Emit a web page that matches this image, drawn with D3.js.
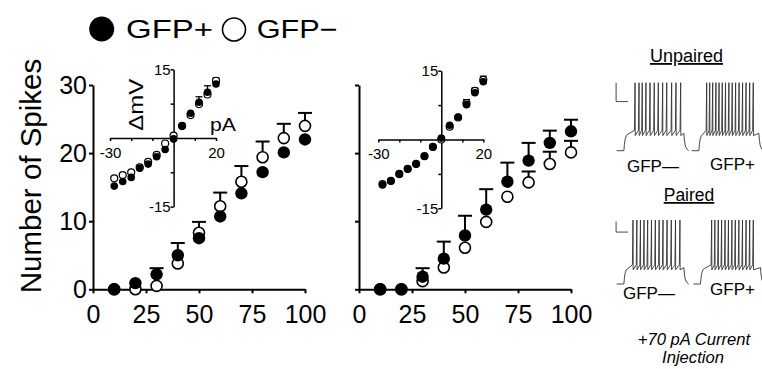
<!DOCTYPE html>
<html>
<head>
<meta charset="utf-8">
<script src="https://cdn.jsdelivr.net/npm/d3@7"></script>
<style>
  body { margin: 0; background: #fff; }
  svg { font-family: "Liberation Sans", Arial, sans-serif; }
  .main path.domain, .main .tick line { stroke: #000; stroke-width: 2; }
  .main .tick text { font-size: 25px; fill: #000; }
  .inset path.domain, .inset .tick line { stroke: #000; stroke-width: 1.5; }
  .inset .tick text { font-size: 15px; fill: #000; }
  .trace { fill: none; stroke: #333; stroke-width: 0.9; }
</style>
</head>
<body>
<svg id="chart" width="762" height="369"></svg>
<script>
// ---- data ----
const currents = [10, 20, 30, 40, 50, 60, 70, 80, 90, 100];
const xTicks = [0, 25, 50, 75, 100];
const yTicks = [0, 10, 20, 30];

// left panel
const leftPos    = [0, 0.9, 2.2, 5.0, 7.5, 10.7, 14.1, 17.2, 20.1, 22.0];
const leftPosErr = [0, 0, 0.9, 1.8, 0, 0, 0, 0, 0, 0];
const leftNeg    = [0, 0, 0.5, 3.8, 8.3, 12.2, 15.8, 19.4, 22.2, 24.0];
const leftNegErr = [0, 0, 0, 0, 1.6, 2.0, 2.3, 2.3, 2.1, 1.9];

// right panel
const rightPos    = [0, 0, 1.85, 4.5, 7.9, 11.7, 15.8, 18.9, 21.5, 23.2];
const rightPosErr = [0, 0, 1.25, 2.5, 2.9, 3.0, 2.8, 2.6, 1.8, 1.7];
const rightNeg    = [0, 0, 1.2, 3.2, 6.1, 9.9, 13.6, 15.7, 18.4, 20.1];
const rightNegErr = [0, 0, 0, 0, 0, 0, 0, 1.6, 1.8, 1.7];

// insets (I-V)
const insetCurrents = [-28, -24, -20, -16, -12, -8, -4, 0, 4, 8, 12, 16, 20];
const insetXTicks = [-30, -20, -10, 0, 10, 20];
const insetYTicks = [-15, -7.5, 0, 7.5, 15];
const leftInsetPos    = [-10.5, -9.5, -8.6, -6.6, -5.7, -4.1, -2.5, -0.2, 2.7, 5.4, 7.8, 10.0, 11.8];
const leftInsetPosErr = [0, 0, 0, 0, 0, 0, 0, 0, 0, 0, 1.2, 1.4, 0];
const leftInsetNeg    = [-8.8, -8.1, -7.5, -6.4, -5.2, -3.7, -1.2, 0.5, 2.6, 5.0, 7.4, 9.5, 12.5];
const leftInsetNegErr = [0, 0, 0, 0, 0, 0, 0, 0, 0, 0, 0, 0, 0.6];
const rightInsetPos    = [-9.9, -9.1, -7.6, -6.5, -5.4, -3.7, -1.7, 0.3, 3.1, 4.9, 7.6, 10.2, 12.6];
const rightInsetPosErr = [0, 0, 0, 0, 0, 0, 0, 0, 0, 0, 0, 1.0, 1.2];
const rightInsetNeg    = [-9.7, -9.0, -7.5, -6.4, -5.3, -3.6, -1.6, 0.0, 2.8, 4.8, 7.9, 10.6, 13.0];
const rightInsetNegErr = [0, 0, 0, 0, 0, 0, 0, 0, 0, 0, 0.8, 0, 0];

// example traces: spike times (ms) during +70 pA step
const unpairedNegSpikes = [93, 126, 153, 184, 218, 253, 287, 323, 357, 398, 434, 473];
const unpairedPosSpikes = [65, 90, 115, 142, 168, 195, 222, 250, 278, 306, 335, 364, 393, 423, 453];
const pairedNegSpikes   = [76, 108, 138, 168, 198, 230, 262, 294, 326, 360, 395, 430, 467];
const pairedPosSpikes   = [93, 120, 148, 176, 205, 233, 262, 290, 320, 350, 380, 410, 440];
const riseShape = [[0, -70], [4, -62], [10, -55], [20, -50], [35, -48]];
const fallShape = [[500, -47], [504, -56], [512, -64], [525, -68], [540, -70]];

// ---- drawing ----
const svg = d3.select("#chart");
svg.append("rect").attr("width", 762).attr("height", 369).attr("fill", "#fff");

// legend
const legend = svg.append("g");
legend.append("circle").attr("cx", 101.7).attr("cy", 29).attr("r", 12.5).attr("fill", "#000");
legend.append("text").attr("x", 126).attr("y", 37.5).attr("font-size", 25.5)
  .attr("textLength", 87).attr("lengthAdjust", "spacingAndGlyphs").text("GFP+");
legend.append("circle").attr("cx", 234).attr("cy", 29.5).attr("r", 11.5)
  .attr("fill", "#fff").attr("stroke", "#000").attr("stroke-width", 1.6);
legend.append("text").attr("x", 256.7).attr("y", 37.5).attr("font-size", 25.5)
  .attr("textLength", 81).attr("lengthAdjust", "spacingAndGlyphs").text("GFP\u2212");

// y label
svg.append("text")
  .attr("transform", "translate(41,176) rotate(-90)")
  .attr("text-anchor", "middle")
  .attr("font-size", 29.5)
  .text("Number of Spikes");

function series(g, x, y, xs, vals, errs, cap, sw) {
  const gr = g.append("g");
  // error bars (upward only)
  xs.forEach(function (c, i) {
    if (!errs[i]) return;
    gr.append("line").attr("x1", x(c)).attr("x2", x(c))
      .attr("y1", y(vals[i])).attr("y2", y(vals[i] + errs[i]))
      .attr("stroke", "#000").attr("stroke-width", sw);
    gr.append("line").attr("x1", x(c) - cap).attr("x2", x(c) + cap)
      .attr("y1", y(vals[i] + errs[i])).attr("y2", y(vals[i] + errs[i]))
      .attr("stroke", "#000").attr("stroke-width", sw);
  });
  return gr;
}

function markers(g, x, y, xs, vals, filled, r, sw) {
  g.append("g").selectAll("circle")
    .data(xs.map(function (c, i) { return [c, vals[i]]; }))
    .enter().append("circle")
    .attr("cx", function (d) { return x(d[0]); })
    .attr("cy", function (d) { return y(d[1]); })
    .attr("r", r)
    .attr("fill", filled ? "#000" : "#fff")
    .attr("stroke", "#000")
    .attr("stroke-width", filled ? 0 : sw);
}

function mainPanel(x0, x1, labels, pos, posErr, neg, negErr) {
  const x = d3.scaleLinear().domain([0, 100]).range([x0, x1]);
  const y = d3.scaleLinear().domain([0, 30]).range([289.3, 85]);
  const g = svg.append("g").attr("class", "main");

  g.append("g").attr("transform", "translate(0,289.3)")
    .call(d3.axisBottom(x).tickValues(xTicks).tickSize(4).tickSizeOuter(0).tickPadding(12));
  g.append("g").attr("transform", "translate(" + x0 + ",0)")
    .call(d3.axisLeft(y).tickValues(yTicks).tickSize(4).tickSizeOuter(0).tickPadding(2)
      .tickFormat(labels ? d3.format("d") : function () { return ""; }));
  g.selectAll(".tick text").attr("font-family", null).attr("font-size", null);

  series(g, x, y, currents, neg, negErr, 7, 2);
  series(g, x, y, currents, pos, posErr, 7, 2);
  markers(g, x, y, currents, neg, false, 5.5, 1.6);
  markers(g, x, y, currents, pos, true, 6.2, 0);
  return g;
}

function insetPanel(xr, yr, pos, posErr, neg, negErr, withLabels) {
  const x = d3.scaleLinear().domain([-30, 20]).range(xr);
  const y = d3.scaleLinear().domain([-15, 15]).range(yr);
  const g = svg.append("g").attr("class", "inset");
  const edge = function (d) { return (d === -30 || d === 20 || d === 15 || d === -15) ? String(d) : ""; };

  g.append("g").attr("transform", "translate(0," + y(0) + ")")
    .call(d3.axisBottom(x).tickValues(insetXTicks).tickSize(3).tickSizeOuter(0).tickPadding(6).tickFormat(edge));
  g.append("g").attr("transform", "translate(" + x(0) + ",0)")
    .call(d3.axisLeft(y).tickValues(insetYTicks).tickSize(3).tickSizeOuter(0).tickPadding(0).tickFormat(edge));
  g.selectAll(".tick text").attr("font-family", null).attr("font-size", null);

  series(g, x, y, insetCurrents, neg, negErr, 3.5, 1.3);
  series(g, x, y, insetCurrents, pos, posErr, 3.5, 1.3);
  markers(g, x, y, insetCurrents, neg, false, 3.5, 1.2);
  markers(g, x, y, insetCurrents, pos, true, 3.8, 0);

  if (withLabels) {
    g.append("text")
      .attr("transform", "translate(" + (x(0) - 31) + "," + (y(7.5) + 1) + ") rotate(-90)")
      .attr("text-anchor", "middle").attr("font-size", 20)
      .attr("textLength", 52).attr("lengthAdjust", "spacingAndGlyphs")
      .text("\u0394mV");
    g.append("text").attr("x", 210).attr("y", y(0) - 7.5)
      .attr("font-size", 19).attr("textLength", 26).attr("lengthAdjust", "spacingAndGlyphs")
      .text("pA");
  }
}

mainPanel(93, 305, true, leftPos, leftPosErr, leftNeg, leftNegErr);
mainPanel(359, 571, false, rightPos, rightPosErr, rightNeg, rightNegErr);
insetPanel([110, 216], [206.7, 69.3], leftInsetPos, leftInsetPosErr, leftInsetNeg, leftInsetNegErr, true);
insetPanel([378.3, 483.3], [208.3, 70.7], rightInsetPos, rightInsetPosErr, rightInsetNeg, rightInsetNegErr, false);

// ---- example traces ----
function tracePoints(spikes) {
  const pts = [[-60, -70]].concat(riseShape);
  spikes.forEach(function (t) {
    pts.push([t - 5, -43], [t, 20], [t + 1.5, -50]);
  });
  return pts.concat(fallShape);
}

function drawTrace(x0, yScale, spikes) {
  const tx = d3.scaleLinear().domain([-60, 540]).range([x0, x0 + 72]);
  const line = d3.line().x(function (d) { return tx(d[0]); }).y(function (d) { return yScale(d[1]); });
  svg.append("path").attr("class", "trace").attr("d", line(tracePoints(spikes)));
  return tx;
}

function scaleBar(tx, ty, t0, v0, mv) {
  const p = d3.path();
  p.moveTo(tx(t0), ty(v0 + mv));
  p.lineTo(tx(t0), ty(v0));
  p.lineTo(tx(t0 + 100), ty(v0));
  svg.append("path").attr("class", "trace").attr("d", p.toString());
}

const unpairedY = d3.scaleLinear().domain([-70, 20]).range([150.7, 82.7]);
const pairedY = d3.scaleLinear().domain([-70, 20]).range([284, 220]);

const t1 = drawTrace(616.7, unpairedY, unpairedNegSpikes);
drawTrace(691.7, unpairedY, unpairedPosSpikes);
scaleBar(t1, unpairedY, -65, -5, 25);
const t2 = drawTrace(616.7, pairedY, pairedNegSpikes);
drawTrace(693.3, pairedY, pairedPosSpikes);
scaleBar(t2, pairedY, -65, 3, 15);

function label(x, y, txt, size, opts) {
  const t = svg.append("text").attr("x", x).attr("y", y)
    .attr("text-anchor", "middle").attr("font-size", size).text(txt);
  if (opts && opts.underline) t.attr("text-decoration", "underline");
  if (opts && opts.italic) t.attr("font-style", "italic");
  return t;
}

label(686.5, 62, "Unpaired", 18, { underline: true });
label(653, 172, "GFP\u2014", 17);
label(732.5, 170, "GFP+", 17);
label(689, 201, "Paired", 17.5, { underline: true });
label(649, 299, "GFP\u2014", 17);
label(732.5, 295, "GFP+", 17);
label(694, 345, "+70 pA Current", 16.6, { italic: true });
label(693, 363, "Injection", 16.6, { italic: true });
</script>
</body>
</html>
